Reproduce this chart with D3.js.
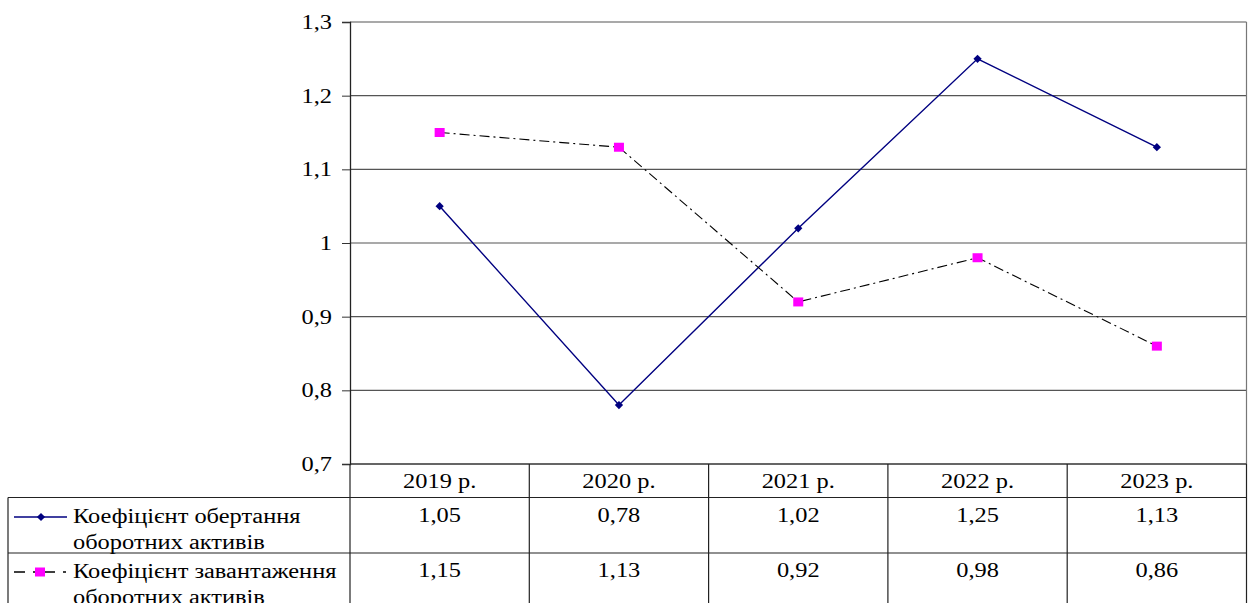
<!DOCTYPE html>
<html><head><meta charset="utf-8">
<script src="https://cdn.jsdelivr.net/npm/d3@7"></script>
<style>body{margin:0;background:#fff}svg{display:block}text{font-family:"Liberation Serif","Times New Roman","DejaVu Serif",serif;fill:#000}</style>
</head><body><svg id="c" width="1248" height="603"></svg>
<script>
const categories = ["2019 р.","2020 р.","2021 р.","2022 р.","2023 р."];
const seriesNames = [["Коефіцієнт обертання","оборотних активів"],["Коефіцієнт завантаження","оборотних активів"]];
const turnover = [1.05,0.78,1.02,1.25,1.13];
const load = [1.15,1.13,0.92,0.98,0.86];
const yTicks = [0.7,0.8,0.9,1.0,1.1,1.2,1.3];
const fmt = v => String(+v.toFixed(2)).replace(".", ",");

const svg = d3.select("#c");
const L = 350, R = 1246.5, T = 22, B = 464;
const x = d3.scaleBand().domain(categories).range([L, R]);
const y = d3.scaleLinear().domain([0.7, 1.3]).range([B, T]);
const fs = 20, K = 1.22;
const ff = '"Liberation Serif","Times New Roman","DejaVu Serif",serif';

// gridlines
svg.append("g").selectAll("line").data(yTicks).join("line")
  .attr("x1", L).attr("x2", R).attr("y1", d => y(d)).attr("y2", d => y(d))
  .attr("stroke", "#555").attr("stroke-width", 1.2);
svg.append("line").attr("x1", R).attr("x2", R).attr("y1", T).attr("y2", B).attr("stroke", "#777").attr("stroke-width", 1.2);

// y axis
const ya = svg.append("g").attr("transform", `translate(${L},0)`)
  .call(d3.axisLeft(y).tickValues(yTicks).tickSize(8).tickPadding(10).tickFormat(fmt));
ya.attr("font-family", null).attr("font-size", null);
ya.select(".domain").attr("stroke", "#222").attr("stroke-width", 1.3);
ya.selectAll(".tick line").attr("stroke", "#333");
ya.selectAll("text").style("font-size", fs + "px").style("font-family", ff).attr("fill", "#000");

// table
const rows = [B, 497.5, 553, 603];
const tbl = svg.append("g").attr("stroke", "#222").attr("stroke-width", 1.2);
tbl.append("line").attr("x1", L).attr("x2", R).attr("y1", B).attr("y2", B);
tbl.append("line").attr("x1", 8).attr("x2", R).attr("y1", rows[1]).attr("y2", rows[1]);
tbl.append("line").attr("x1", 8).attr("x2", R).attr("y1", rows[2]).attr("y2", rows[2]);
tbl.append("line").attr("x1", 8).attr("x2", 8).attr("y1", rows[1]).attr("y2", 603);
tbl.append("line").attr("x1", L).attr("x2", L).attr("y1", B).attr("y2", 603);
tbl.selectAll(".v").data(categories).join("line").attr("class","v")
  .attr("x1", d => x(d) + x.bandwidth()).attr("x2", d => x(d) + x.bandwidth())
  .attr("y1", B).attr("y2", 603);

svg.append("g").selectAll("text").data(categories).join("text")
  .attr("x", d => x(d) + x.bandwidth()/2).attr("y", 488).attr("text-anchor", "middle")
  .style("font-size", fs + "px").text(d => d);
[turnover, load].forEach((arr, i) => {
  svg.append("g").selectAll("text").data(arr).join("text")
    .attr("x", (d, j) => x(categories[j]) + x.bandwidth()/2).attr("y", i ? 577 : 522)
    .attr("text-anchor", "middle").style("font-size", fs + "px").text(d => fmt(d));
});

// lines
const line = d3.line().x((d, i) => x(categories[i]) + x.bandwidth()/2).y(d => y(d));
svg.append("path").datum(turnover).attr("d", line).attr("fill", "none")
  .attr("stroke", "#000080").attr("stroke-width", 1.4);
svg.append("path").datum(load).attr("d", line).attr("fill", "none")
  .attr("stroke", "#000").attr("stroke-width", 1.1).attr("stroke-dasharray", "10,4,2,4");

svg.append("g").selectAll("path").data(turnover).join("path")
  .attr("d", d3.symbol().type(d3.symbolSquare).size(34))
  .attr("transform", (d, i) => `translate(${x(categories[i]) + x.bandwidth()/2},${y(d)}) rotate(45)`)
  .attr("fill", "#000080");
svg.append("g").selectAll("rect").data(load).join("rect")
  .attr("x", (d, i) => x(categories[i]) + x.bandwidth()/2 - 5).attr("y", d => y(d) - 4.5)
  .attr("width", 10).attr("height", 9).attr("fill", "#FF00FF");

// legend
const lg = svg.append("g");
lg.append("line").attr("x1", 14).attr("x2", 67).attr("y1", 517).attr("y2", 517).attr("stroke", "#000080").attr("stroke-width", 1.4);
lg.append("path").attr("d", d3.symbol().type(d3.symbolSquare).size(34)).attr("transform", "translate(41,517) rotate(45)").attr("fill", "#000080");
lg.append("line").attr("x1", 14).attr("x2", 67).attr("y1", 572).attr("y2", 572).attr("stroke", "#000").attr("stroke-width", 1.4).attr("stroke-dasharray", "11,8,22,8,3,100");
lg.append("rect").attr("x", 35).attr("y", 567.5).attr("width", 10).attr("height", 9).attr("fill", "#FF00FF");
seriesNames.forEach((n, i) => {
  n.forEach((s, k) => {
    lg.append("text").attr("x", 73).attr("y", (i ? 578 : 523) + k * 26)
      .style("font-size", fs + "px").text(s);
  });
});

// horizontal widening to match the reference's stretched type
svg.selectAll("text").each(function() {
  const w = this.getComputedTextLength();
  d3.select(this).attr("textLength", w * K).attr("lengthAdjust", "spacingAndGlyphs");
});
</script></body></html>
